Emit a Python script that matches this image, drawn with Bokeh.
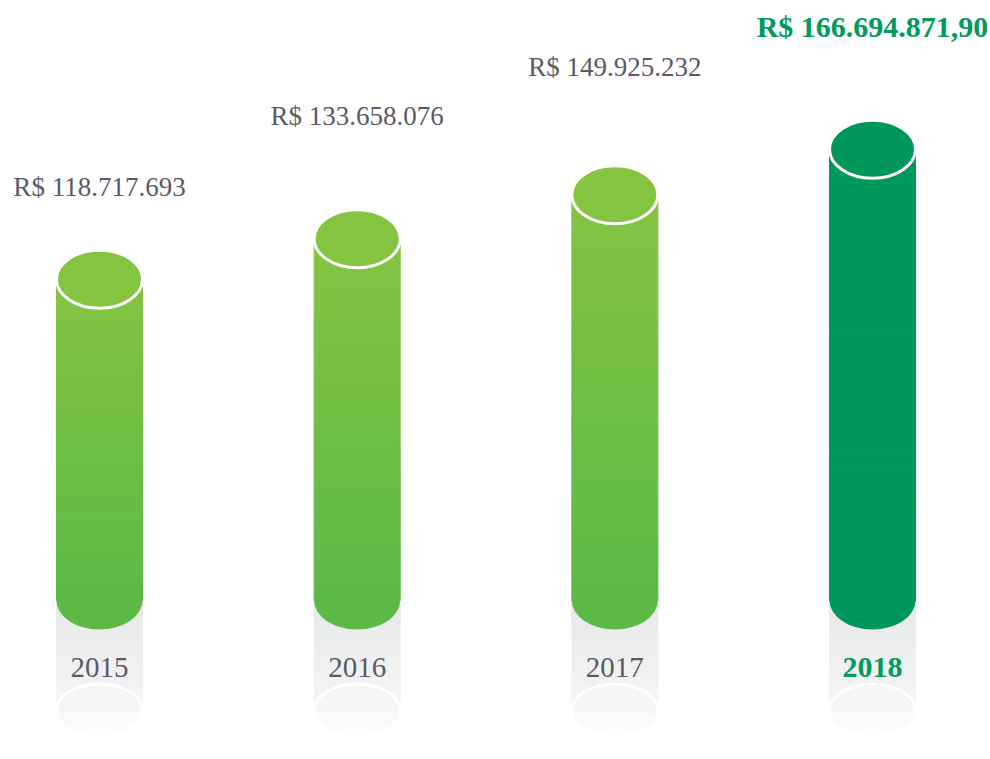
from bokeh.plotting import figure
from bokeh.models import Range1d, ColumnDataSource
from bokeh.core.properties import value
from bokeh.embed import file_html
from bokeh.resources import INLINE

# ---- data ----
years = ["2015", "2016", "2017", "2018"]
revenue = [118717693.0, 133658076.0, 149925232.0, 166694871.90]
value_labels = ["R$ 118.717.693", "R$ 133.658.076", "R$ 149.925.232", "R$ 166.694.871,90"]

# ---- layout / style ----
W, H = 990, 759
PX_PER_UNIT = 2.7067          # vertical pixels per million R$
BASE_FROM_BOTTOM = 159        # pixels from bottom of frame to cylinder base
X_FIRST_PX, X_STEP_PX = 99, 257.67
BAR_PX, CAP_PX = 86, 58
REFL_PX, REFL_CAP_PX = 110, 53
label_gap_px = [92, 123, 128, 123]
year_gap_px = 67

highlight = [False, False, False, True]
green_top, green_bottom = (0x85, 0xC4, 0x41), (0x5C, 0xB9, 0x46)
dark_green = (0x00, 0x98, 0x5A)
gray_text = "#5b5a64"
green_text = "#009a5b"


def hexc(c):
    return "#%02x%02x%02x" % tuple(int(round(v)) for v in c)


def mix(a, b, t):
    return tuple(a[i] + (b[i] - a[i]) * t for i in range(3))


def py(p):
    return p / PX_PER_UNIT


vals = [v / 1e6 for v in revenue]
xs = list(range(len(years)))
bw = BAR_PX / X_STEP_PX

p = figure(width=W, height=H, output_backend="svg", toolbar_location=None,
           x_range=Range1d(-X_FIRST_PX / X_STEP_PX, (W - X_FIRST_PX) / X_STEP_PX),
           y_range=Range1d(-BASE_FROM_BOTTOM / PX_PER_UNIT, (H - BASE_FROM_BOTTOM) / PX_PER_UNIT),
           min_border=0)
p.axis.visible = False
p.grid.visible = False
p.outline_line_color = None
p.background_fill_color = "white"
p.border_fill_color = "white"

# ---- reflections ----
N = 40
L, R, B, T, C = [], [], [], [], []
for i, x in enumerate(xs):
    for k in range(N):
        t = k / N
        L.append(x - bw / 2); R.append(x + bw / 2)
        T.append(-py(REFL_PX) * t); B.append(-py(REFL_PX) * (k + 1) / N)
        C.append(hexc(mix((0xE7, 0xE8, 0xE8), (0xF6, 0xF6, 0xF6), t)))
p.quad(left=L, right=R, bottom=B, top=T, fill_color=C, line_color=C, line_width=1)

p.ellipse(x=xs, y=[-py(REFL_PX)] * len(xs), width=bw, height=py(REFL_CAP_PX),
          fill_color="#f6f6f6", line_color="white", line_width=3)
# fade lower half of reflected cap
L, R, B, T, A = [], [], [], [], []
for i, x in enumerate(xs):
    for k in range(N):
        t = k / N
        L.append(x - bw / 2 - 0.01); R.append(x + bw / 2 + 0.01)
        T.append(-py(REFL_PX) - py(REFL_CAP_PX / 2 + 2) * t)
        B.append(-py(REFL_PX) - py(REFL_CAP_PX / 2 + 2) * (k + 1) / N)
        A.append(0.35 + 0.65 * t)
p.quad(left=L, right=R, bottom=B, top=T, fill_color="white", fill_alpha=A, line_color=None)

# ---- cylinder bottoms ----
bottom_cols = [hexc(dark_green) if h else hexc(green_bottom) for h in highlight]
top_cols = [hexc(dark_green) if h else hexc(green_top) for h in highlight]
p.ellipse(x=xs, y=[0] * len(xs), width=bw, height=py(CAP_PX),
          fill_color=bottom_cols, line_color=None)

# ---- cylinder bodies (vertical gradient) ----
L, R, B, T, C = [], [], [], [], []
for i, x in enumerate(xs):
    v = vals[i]
    for k in range(N):
        t = k / N
        L.append(x - bw / 2); R.append(x + bw / 2)
        B.append(v * k / N); T.append(v * (k + 1) / N)
        C.append(hexc(dark_green) if highlight[i] else hexc(mix(green_bottom, green_top, t)))
p.quad(left=L, right=R, bottom=B, top=T, fill_color=C, line_color=C, line_width=1)

# ---- cylinder tops ----
p.ellipse(x=xs, y=vals, width=bw, height=py(CAP_PX),
          fill_color=top_cols, line_color="white", line_width=3)

# ---- labels ----
src = ColumnDataSource(dict(
    x=xs,
    y=[vals[i] + py(label_gap_px[i]) for i in range(len(xs))],
    yy=[-py(year_gap_px)] * len(xs),
    text=value_labels,
    year=years,
    color=[green_text if h else gray_text for h in highlight],
    size=["30px" if h else "27px" for h in highlight],
    ysize=["30px" if h else "29px" for h in highlight],
    style=["bold" if h else "normal" for h in highlight],
))
p.text(x="x", y="y", text="text", source=src, text_align="center",
       text_baseline="alphabetic", text_color="color", text_font_size="size",
       text_font_style="style", text_font=value("Liberation Serif"))
p.text(x="x", y="yy", text="year", source=src, text_align="center",
       text_baseline="alphabetic", text_color="color", text_font_size="ysize",
       text_font_style="style", text_font=value("Liberation Serif"))

open("out.html", "w").write(file_html(p, INLINE))
